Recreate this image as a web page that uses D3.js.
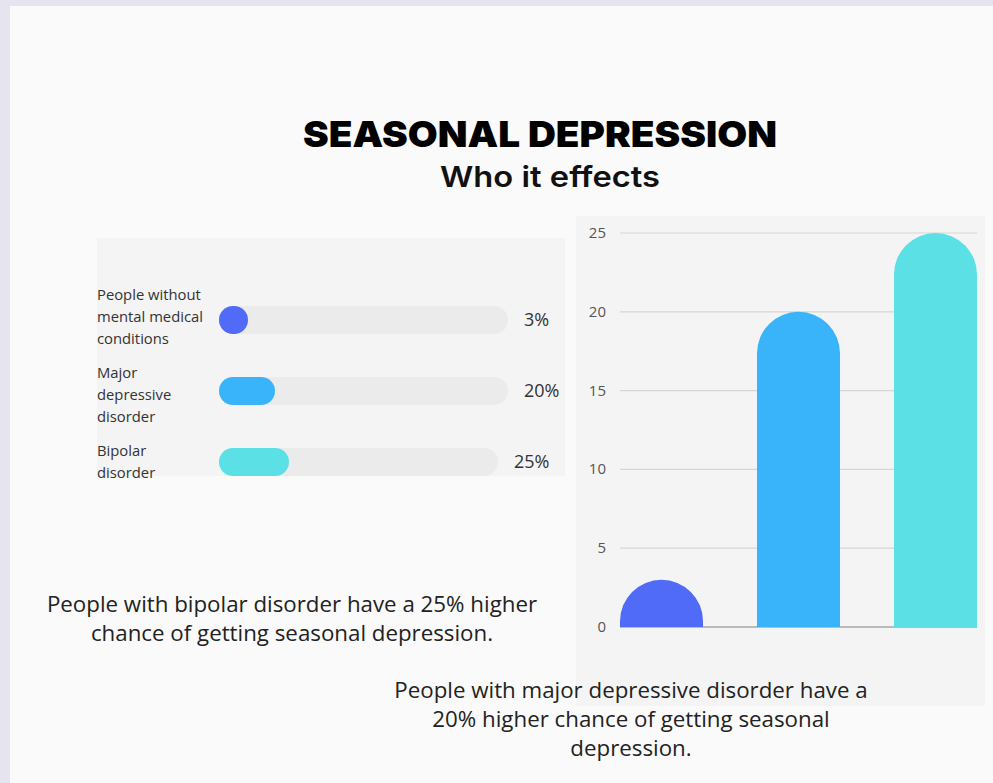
<!DOCTYPE html>
<html><head><meta charset="utf-8">
<script src="https://cdn.jsdelivr.net/npm/d3@7"></script>
<style>
html,body{margin:0;padding:0;background:#e6e4ef;}
svg{display:block;}
</style></head>
<body>
<svg id="c" width="993" height="783"></svg>
<script>
const categories = ["People without mental medical conditions", "Major depressive disorder", "Bipolar disorder"];
const categoryLines = [["People without","mental medical","conditions"],["Major","depressive","disorder"],["Bipolar","disorder"]];
const values = [3, 20, 25];
const valueLabels = ["3%", "20%", "25%"];
const colors = ["#4f6bf8", "#39b4fb", "#5be0e6"];
const yTicks = [0, 5, 10, 15, 20, 25];
const title = "SEASONAL DEPRESSION";
const subtitle = "Who it effects";
const note1 = ["People with bipolar disorder have a 25% higher","chance of getting seasonal depression."];
const note2 = ["People with major depressive disorder have a","20% higher chance of getting seasonal","depression."];

const svg = d3.select("#c");
svg.append("rect").attr("x",10).attr("y",6).attr("width",983).attr("height",777).attr("fill","#fafafa");

// titles
svg.append("text").attr("x",540).attr("y",147).attr("text-anchor","middle")
  .attr("font-family","Inter").attr("font-weight",900).attr("font-size",36).attr("fill","#000")
  .attr("textLength",474).attr("lengthAdjust","spacingAndGlyphs")
  .text(title);
svg.append("text").attr("x",550).attr("y",187).attr("text-anchor","middle")
  .attr("font-family","Inter").attr("font-weight",600).attr("font-size",29).attr("fill","#111")
  .attr("textLength",220).attr("lengthAdjust","spacingAndGlyphs")
  .text(subtitle);

// ---------- left panel: progress bars ----------
svg.append("rect").attr("x",97).attr("y",238).attr("width",468).attr("height",238).attr("fill","#f4f4f4");
const rowY = d3.scalePoint().domain(categories).range([320,462]);
const trackEnds = [508, 508, 498];
const hx = d3.scaleLinear().domain([0,100]).range([219,499]);
const barH = 28;
const firstLineOffset = [-20, -13, -6];
const valueLabelX = [524, 524, 514];
const g1 = svg.append("g");
categories.forEach((c,i)=>{
  const cy = rowY(c);
  g1.append("rect").attr("x",hx(0)).attr("y",cy-barH/2).attr("width",trackEnds[i]-hx(0)).attr("height",barH)
    .attr("rx",barH/2).attr("fill","#ebebeb");
  const w = Math.max(barH+1, hx(values[i])-hx(0));
  g1.append("rect").attr("x",hx(0)).attr("y",cy-barH/2).attr("width",w).attr("height",barH)
    .attr("rx",barH/2).attr("fill",colors[i]);
  const t = g1.append("text").attr("font-family","'Open Sans', sans-serif").attr("font-size",14.8).attr("fill","#333");
  categoryLines[i].forEach((l,j)=>{
    t.append("tspan").attr("x",97).attr("y",cy + firstLineOffset[i] + j*22).text(l);
  });
  g1.append("text").attr("x",valueLabelX[i]).attr("y",cy+6)
    .attr("font-family","'Open Sans', sans-serif").attr("font-size",18).attr("fill","#333").text(valueLabels[i]);
});

// ---------- right panel: column chart ----------
svg.append("rect").attr("x",576).attr("y",216).attr("width",409).attr("height",490).attr("fill","#f4f4f4");
const x = d3.scaleBand().domain(categories).range([620,977]).paddingInner(0.394).paddingOuter(0);
const y = d3.scaleLinear().domain([0,25]).range([627,233]);
const g2 = svg.append("g");
g2.selectAll("line.grid").data(yTicks).join("line").attr("class","grid")
  .attr("x1",620).attr("x2",977).attr("y1",d=>y(d)).attr("y2",d=>y(d))
  .attr("stroke",d=>d===0?"#a8a8a8":"#d6d6d6").attr("stroke-width",d=>d===0?1.5:1.2);
g2.selectAll("text.tick").data(yTicks).join("text").attr("class","tick")
  .attr("x",606).attr("y",d=>y(d)+5).attr("text-anchor","end")
  .attr("font-family","'Open Sans', sans-serif").attr("font-size",15).attr("fill","#555").text(d=>d);
function roundTop(x0,y0,w,h){
  const r = Math.min(w/2, h);
  return `M${x0},${y0+h} L${x0},${y0+r} A${w/2},${r} 0 0 1 ${x0+w},${y0+r} L${x0+w},${y0+h} Z`;
}
g2.selectAll("path.bar").data(categories).join("path").attr("class","bar")
  .attr("d",(c,i)=>roundTop(x(c), y(values[i]), x.bandwidth(), y(0)-y(values[i])))
  .attr("fill",(c,i)=>colors[i]);

// ---------- notes ----------
const n1 = svg.append("text").attr("text-anchor","middle").attr("font-family","'Open Sans', sans-serif")
  .attr("font-size",22.3).attr("fill","#222");
note1.forEach((l,j)=>n1.append("tspan").attr("x",292).attr("y",612+j*29).text(l));
const n2 = svg.append("text").attr("text-anchor","middle").attr("font-family","'Open Sans', sans-serif")
  .attr("font-size",22.3).attr("fill","#222");
note2.forEach((l,j)=>n2.append("tspan").attr("x",631).attr("y",698+j*29).text(l));
</script>
</body></html>
